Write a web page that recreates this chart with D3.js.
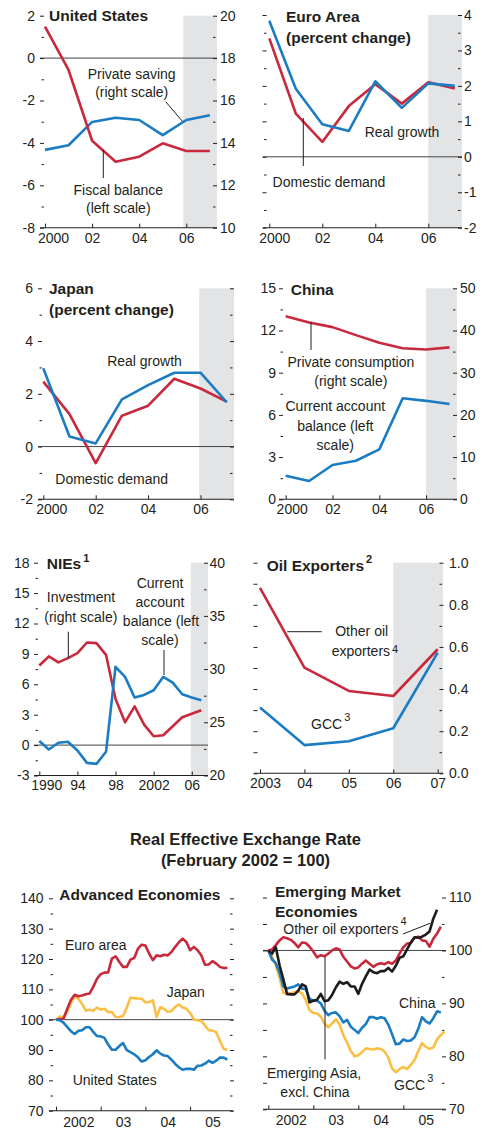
<!DOCTYPE html>
<html><head><meta charset="utf-8">
<script src="https://cdn.jsdelivr.net/npm/d3@7"></script>
<style>
body{margin:0;background:#fff;}
svg text{font-family:"Liberation Sans",Arial,sans-serif;}
</style></head><body>
<svg id="c" width="481" height="1131"></svg>
<script>
// ---------- DATA ----------
const years2000 = [2000,2001,2002,2003,2004,2005,2006,2007];
const usFiscal = [1.48,-0.56,-3.9,-4.89,-4.65,-4.02,-4.38,-4.38];
const usSaving = [13.67,13.89,14.99,15.19,15.08,14.37,15.08,15.3];
const euroDomestic = [3.34,1.22,0.42,1.43,2.05,1.5,2.1,1.93];
const euroGrowth = [3.84,1.92,0.92,0.73,2.13,1.38,2.07,2.0];
const japanDomestic = [2.46,1.23,-0.63,1.17,1.55,2.57,2.2,1.7];
const japanGrowth = [2.97,0.38,0.12,1.79,2.33,2.8,2.8,1.68];
const chinaConsumption = [43.4,41.9,40.8,38.9,37.1,35.8,35.5,36.0];
const chinaCurrent = [1.68,1.3,2.44,2.74,3.55,7.18,7.0,6.77];
const niesYears = [1990,1991,1992,1993,1994,1995,1996,1997,1998,1999,2000,2001,2002,2003,2004,2005,2006,2007];
const niesCurrent = [0.4,-0.43,0.23,0.33,-0.53,-1.75,-1.85,-0.66,7.72,6.73,4.69,4.95,5.41,6.73,6.17,5.02,4.69,4.42];
const niesInvestment = [30.34,31.19,30.63,31.03,31.5,32.5,32.44,31.34,27.19,25.0,26.5,24.78,23.69,23.78,24.63,25.47,25.81,26.13];
const oilYears = [2003,2004,2005,2006,2007];
const oilOther = [0.881,0.502,0.391,0.367,0.589];
const oilGCC = [0.312,0.134,0.152,0.214,0.573];
// Real effective exchange rates, monthly from Jan 2002
const advEuro = [100,100.2,100.3,103.5,106.5,108.2,107.7,108,108.4,108.6,110.8,113.5,115,115.5,115.6,120.1,120.9,119,117.4,117.4,119.8,120.3,123.4,124.7,124.4,121.8,119.6,121.2,120.9,121.4,121.2,122.3,124,125.5,126.7,125.6,122.9,124,122.9,121.2,118.1,118.2,119.3,118.5,117.4,117,117.1];
const advJapan = [100,101,100.8,102.5,105.5,107.6,106.9,105.2,103,103.3,102.9,104,103.3,103.6,102.5,102.5,100.9,100.9,101.2,104,107.3,107.1,107,106.9,105.7,105.8,106.4,100.9,104.1,103.6,102.6,102.8,104.2,105,104,103.6,102.2,100.1,99.8,99.6,98.1,96.5,96.4,95.9,93,90.4,90];
const advUS = [100,99.8,99,97.6,96.2,95.3,96.3,96.5,97.5,97.5,96,94.6,94.5,94,91.8,90.1,90.1,91.3,92.3,90,89.3,88.6,87.6,86.2,86.6,87.7,88.6,89.9,88.8,88.2,88,86.8,85.4,84.3,83.5,83.8,83.8,83.5,84.8,84.9,85.5,86.5,85.8,86.5,87.5,87.5,86.8];
const emAsiaExChina = [100,100.2,101,101.9,102.5,102.3,102,101.4,100.6,101.5,101.4,100.7,99.8,98.7,99.1,98.9,99.4,100,100.4,100.2,98.8,97.9,97,96.6,96.8,97.5,98.1,97.5,96.9,97.4,97.6,97.4,97.8,97.5,98.1,99.4,100.6,101.3,101.4,102.4,102.6,101.9,101.8,100.7,102.2,103.2,104.5];
const emGCC = [100,98.9,97.2,94.8,92,91.7,91.9,92.1,92.3,91.9,90.6,88.7,88.2,88.1,87.5,86.2,85.5,86.2,87,86,84,82.6,81,80,80.2,80.8,81.5,81.4,81.3,81.5,81.4,80.9,79.8,77.7,77,77.6,78,77.6,78.4,79.3,81,82.5,81.8,81.4,81.7,83.2,84,84.7];
const emChina = [100,98.3,97.6,95.8,93.2,92.8,93,93.2,93.6,92.8,92.7,90.9,90.5,90.5,90,88.6,87.8,88.2,88.3,87.6,86.4,86.9,85.6,85,84.4,85.4,86.1,87.4,87.4,87.1,87.4,87.2,86,84.2,82.3,82.4,83.2,82.9,83,83.6,85.2,87.4,86.6,86.2,87.2,88.5,88.3];
const emOtherOil = [100,99.4,100.6,97.2,94.6,91.8,91.7,91.7,92.4,93.6,93.2,90.2,90.5,90.7,91.8,90.4,90.6,91.6,93,94.1,93.7,94,93.2,93.2,91.8,93.7,95.1,96.4,95.9,95.7,96.1,96.1,96.7,96,97.1,98.6,98.9,100.2,101.5,102.5,102.4,102.6,103,103.6,106,107.7];
const reerYearTicks = [0,12,24,36];
const reerYearLabels = ["2002","03","04","05"];

// ---------- STYLE ----------
const RED="#c9293d", BLUE="#1b7cc3", YEL="#fcbf45", BLK="#1c1c1c", SHADE="#e3e4e6", INK="#231f20";
const FONT = "'Liberation Sans', Arial, sans-serif";
const svg = d3.select("#c");

function styleAxis(sel){
  sel.attr("font-size",14).attr("font-family",FONT).attr("color",INK);
  sel.select(".domain").remove();
}
function yAxis(g, side, scale, at, major, minor, fmt, pad){
  const mk = side==="left" ? d3.axisLeft : d3.axisRight;
  if (minor && minor.length) g.append("g").attr("transform",`translate(${at},0)`)
    .call(mk(scale).tickValues(minor).tickSize(2.5).tickFormat("")).call(styleAxis);
  g.append("g").attr("transform",`translate(${at},0)`)
    .call(mk(scale).tickValues(major).tickSize(4).tickPadding(pad||4).tickFormat(fmt || (()=>""))).call(styleAxis);
}
function txt(g, x, y, s, opt){
  opt = opt||{};
  return g.append("text").attr("x",x).attr("y",y).text(s)
    .attr("font-size",opt.size||14).attr("font-weight",opt.bold?"bold":"normal")
    .attr("text-anchor",opt.anchor||"start").attr("fill",INK);
}
// superscript placed right after a text element
function sup(g, base, s, dy, bold){
  const bb = base.node().getBBox();
  return txt(g, bb.x + bb.width + 2, +base.attr("y") + dy, s, {size:11, bold:bold});
}
function leader(g,x1,y1,x2,y2){
  g.append("line").attr("x1",x1).attr("y1",y1).attr("x2",x2).attr("y2",y2).attr("stroke",INK).attr("stroke-width",1);
}
const hy = d => String(d);

function panel(p){
  const g = svg.append("g");
  const x = d3.scaleLinear().domain(p.xDomain).range(p.xRange);
  const yl = d3.scaleLinear().domain(p.yLeft).range([p.bottom,p.top]);
  const yr = d3.scaleLinear().domain(p.yRight||p.yLeft).range([p.bottom,p.top]);
  if (p.shade!=null) g.append("rect").attr("x",x(p.shade)).attr("y",p.top)
      .attr("width",p.x1-x(p.shade)).attr("height",p.bottom-p.top).attr("fill",SHADE);
  if (p.ref!=null) g.append("line").attr("x1",p.x0).attr("x2",p.x1)
      .attr("y1",yl(p.ref)).attr("y2",yl(p.ref)).attr("stroke","#444").attr("stroke-width",1);
  yAxis(g,"left",yl,p.lAt,p.lMajor,p.lMinor,p.lFmt,p.lPad);
  yAxis(g,"right",yr,p.rAt,p.rMajor,p.rMinor,p.rFmt,p.rPad);
  g.append("line").attr("x1",p.x0).attr("x2",p.x1).attr("y1",p.bottom).attr("y2",p.bottom)
    .attr("stroke",INK).attr("stroke-width",1.1);
  const xa = g.append("g").attr("transform",`translate(0,${p.bottom})`);
  let lab;
  if (p.xLabelAt){
    xa.append("g").call(d3.axisBottom(x).tickValues(p.xTicks).tickSizeInner(-4).tickSizeOuter(0).tickFormat("")).call(styleAxis);
    lab = xa.append("g").call(d3.axisBottom(x).tickValues(p.xLabelAt).tickSize(0).tickPadding(6).tickFormat((d,i)=>p.xLabels[i])).call(styleAxis);
  } else {
    lab = xa.append("g").call(d3.axisBottom(x).tickValues(p.xTicks).tickSizeInner(-4).tickSizeOuter(0).tickPadding(5)
      .tickFormat((d,i)=>p.xLabels[i])).call(styleAxis);
  }
  if (p.firstDx) lab.selectAll(".tick text").filter((d,i)=>i===0).attr("dx",p.firstDx);
  p.series.forEach(s=>{
    const y = s.right ? yr : yl;
    const xs = p.xs;
    const line = d3.line().x((d,i)=>x(xs ? xs[i] : i)).y(d=>y(d));
    g.append("path").datum(s.values).attr("d",line).attr("fill","none")
      .attr("stroke",s.color).attr("stroke-width",2.6).attr("stroke-linejoin","round");
  });
  return g;
}
const range = (a,b,s)=>d3.range(a,b+s/2,s);
let g, t;

// ---- Panel 1: United States
g = panel({xDomain:[2000,2007],xRange:[45,209.85],top:15.7,bottom:227.7,x0:40,x1:217,
  yLeft:[-8,2],yRight:[10,20],shade:2005.87,ref:0,
  lAt:44,lMajor:range(-8,2,2),lMinor:range(-7,1,2),lFmt:hy,lPad:5,
  rAt:213,rMajor:range(10,20,2),rMinor:range(11,19,2),rFmt:hy,rPad:3,firstDx:8,
  xTicks:[2000,2002,2004,2006],xLabels:["2000","02","04","06"],xs:years2000,
  series:[{values:usSaving,color:BLUE,right:true},{values:usFiscal,color:RED}]});
txt(g,49,20.7,"United States",{bold:true,size:15.5});
txt(g,131.7,79,"Private saving",{anchor:"middle"});
txt(g,131.7,97,"(right scale)",{anchor:"middle"});
leader(g,165.7,101.7,182.7,121.7);
txt(g,118.3,195,"Fiscal balance",{anchor:"middle"});
txt(g,118.3,213.3,"(left scale)",{anchor:"middle"});
leader(g,103.3,150,103.3,178);

// ---- Panel 2: Euro Area
g = panel({xDomain:[2000,2007],xRange:[269.3,454.8],top:15,bottom:227.7,x0:263,x1:462,
  yLeft:[-2,4],yRight:[-2,4],shade:2006,ref:0,
  lAt:266.5,lMajor:range(-2,4,1),lMinor:range(-1.5,3.5,1),lFmt:null,
  rAt:458,rMajor:range(-2,4,1),rMinor:range(-1.5,3.5,1),rFmt:hy,rPad:2,firstDx:5,
  xTicks:[2000,2002,2004,2006],xLabels:["2000","02","04","06"],xs:years2000,
  series:[{values:euroDomestic,color:RED},{values:euroGrowth,color:BLUE}]});
txt(g,286,21.5,"Euro Area",{bold:true,size:15.5});
txt(g,286,42.5,"(percent change)",{bold:true,size:15.5});
txt(g,402,136.7,"Real growth",{anchor:"middle"});
txt(g,329,186.7,"Domestic demand",{anchor:"middle"});
leader(g,303.3,118,303.3,166);

// ---- Panel 3: Japan
g = panel({xDomain:[2000,2007],xRange:[43.3,226.7],top:288.3,bottom:499.3,x0:38,x1:234,
  yLeft:[-2,6],yRight:[-2,6],shade:2005.95,ref:0,
  lAt:42,lMajor:range(-2,6,2),lMinor:range(-1,5,2),lFmt:hy,lPad:5,
  rAt:230,rMajor:range(-2,6,2),rMinor:range(-1,5,2),rFmt:null,firstDx:8,
  xTicks:[2000,2002,2004,2006],xLabels:["2000","02","04","06"],xs:years2000,
  series:[{values:japanDomestic,color:RED},{values:japanGrowth,color:BLUE}]});
txt(g,49,294,"Japan",{bold:true,size:15.5});
txt(g,49,315,"(percent change)",{bold:true,size:15.5});
txt(g,144.5,366,"Real growth",{anchor:"middle"});
txt(g,111.7,484,"Domestic demand",{anchor:"middle"});

// ---- Panel 4: China
g = panel({xDomain:[2000,2007],xRange:[285.7,449.5],top:288.3,bottom:499.3,x0:279,x1:457,
  yLeft:[0,15],yRight:[0,50],shade:2006,ref:null,
  lAt:283,lMajor:range(0,15,3),lMinor:range(1.5,13.5,3),lFmt:hy,lPad:3,
  rAt:453,rMajor:range(0,50,10),rMinor:range(5,45,10),rFmt:hy,rPad:3,firstDx:6,
  xTicks:[2000,2002,2004,2006],xLabels:["2000","02","04","06"],xs:years2000,
  series:[{values:chinaConsumption,color:RED,right:true},{values:chinaCurrent,color:BLUE}]});
txt(g,290.7,295,"China",{bold:true,size:15.5});
txt(g,350.8,366.7,"Private consumption",{anchor:"middle"});
txt(g,350.8,385.5,"(right scale)",{anchor:"middle"});
leader(g,311,321.7,311,350);
txt(g,335.3,411.3,"Current account",{anchor:"middle"});
txt(g,335.3,430.5,"balance (left",{anchor:"middle"});
txt(g,335.3,450,"scale)",{anchor:"middle"});

// ---- Panel 5: NIEs
g = panel({xDomain:[1990,2007],xRange:[39.3,201.3],top:562.7,bottom:775.5,x0:34,x1:208,
  yLeft:[-3,18],yRight:[20,40],shade:2005.9,ref:0,
  lAt:38,lMajor:range(-3,18,3),lMinor:range(-1.5,16.5,3),lFmt:hy,lPad:4.5,
  rAt:204,rMajor:range(20,40,5),rMinor:range(22.5,37.5,5),rFmt:hy,rPad:1.5,firstDx:7,
  xTicks:[1990,1994,1998,2002,2006],xLabels:["1990","94","98","2002","06"],xs:niesYears,
  series:[{values:niesInvestment,color:RED,right:true},{values:niesCurrent,color:BLUE}]});
t = txt(g,46.7,569.3,"NIEs",{bold:true,size:15.5});
sup(g,t,"1",-7,true);
txt(g,81,602.3,"Investment",{anchor:"middle"});
txt(g,80.8,622,"(right scale)",{anchor:"middle"});
leader(g,68.3,631.7,68.3,658.3);
txt(g,160,588,"Current",{anchor:"middle"});
txt(g,160,606.5,"account",{anchor:"middle"});
txt(g,161,626,"balance (left",{anchor:"middle"});
txt(g,160,645,"scale)",{anchor:"middle"});
leader(g,164,650,164,675);

// ---- Panel 6: Oil Exporters
g = panel({xDomain:[2003,2007],xRange:[260,437.7],top:562.7,bottom:773.3,x0:254,x1:443,
  yLeft:[0,1],yRight:[0,1],shade:2006,ref:null,
  lAt:257.5,lMajor:range(0,1,0.1),lMinor:[],lFmt:null,
  rAt:439.5,rMajor:range(0,1,0.2),rMinor:range(0.1,0.9,0.2),rFmt:d=>d.toFixed(1),rPad:5.5,firstDx:5,
  xTicks:oilYears,xLabels:["2003","04","05","06","07"],xs:oilYears,
  series:[{values:oilOther,color:RED},{values:oilGCC,color:BLUE}]});
t = txt(g,266.7,570.7,"Oil Exporters",{bold:true,size:15.5});
sup(g,t,"2",-8,true);
txt(g,361.7,635.7,"Other oil",{anchor:"middle"});
t = txt(g,331.7,655.7,"exporters");
sup(g,t,"4",-3,false);
leader(g,287.3,631.7,321.7,631.7);
t = txt(g,311,729.3,"GCC");
sup(g,t,"3",-8,false);

// ---- Title
txt(svg,245.5,845,"Real Effective Exchange Rate",{bold:true,size:16.5,anchor:"middle"});
txt(svg,245.5,866,"(February 2002 = 100)",{bold:true,size:16.5,anchor:"middle"});

// ---- Panel 7: Advanced Economies
g = panel({xDomain:[0,48],xRange:[56,234.8],top:898.3,bottom:1110.7,x0:49,x1:233,
  yLeft:[70,140],yRight:[70,140],shade:null,ref:100,
  lAt:53,lMajor:range(70,140,10),lMinor:range(75,135,10),lFmt:hy,lPad:5.5,
  rAt:230,rMajor:range(70,140,10),rMinor:range(75,135,10),rFmt:null,
  xTicks:reerYearTicks,xLabelAt:[6,18,30,42],xLabels:reerYearLabels,xs:null,
  series:[{values:advJapan,color:YEL},{values:advEuro,color:RED},{values:advUS,color:BLUE}]});
txt(g,59.3,900,"Advanced Economies",{bold:true,size:15.5});
txt(g,65,950,"Euro area");
txt(g,166.7,997.3,"Japan");
txt(g,72.7,1085,"United States");

// ---- Panel 8: Emerging Market Economies
g = panel({xDomain:[0,48],xRange:[268.3,448.3],top:897.5,bottom:1109.3,x0:263,x1:446,
  yLeft:[70,110],yRight:[70,110],shade:null,ref:100,
  lAt:267,lMajor:range(70,110,5),lMinor:[],lFmt:null,
  rAt:442,rMajor:range(70,110,10),rMinor:range(75,105,10),rFmt:hy,rPad:3,
  xTicks:reerYearTicks,xLabelAt:[6,18,30,42],xLabels:reerYearLabels,xs:null,
  series:[{values:emGCC,color:YEL},{values:emChina,color:BLUE},{values:emAsiaExChina,color:RED},{values:emOtherOil,color:BLK}]});
txt(g,275,896.7,"Emerging Market",{bold:true,size:15.5});
txt(g,275,916.7,"Economies",{bold:true,size:15.5});
t = txt(g,283.3,934,"Other oil exporters");
sup(g,t,"4",-9,false);
leader(g,403,934,430,923.3);
txt(g,399,1008,"China");
txt(g,314,1078,"Emerging Asia,",{anchor:"middle"});
txt(g,315,1096.5,"excl. China",{anchor:"middle"});
leader(g,325,956.7,325,1059.3);
t = txt(g,394,1090,"GCC");
sup(g,t,"3",-8,false);
</script>
</body></html>
